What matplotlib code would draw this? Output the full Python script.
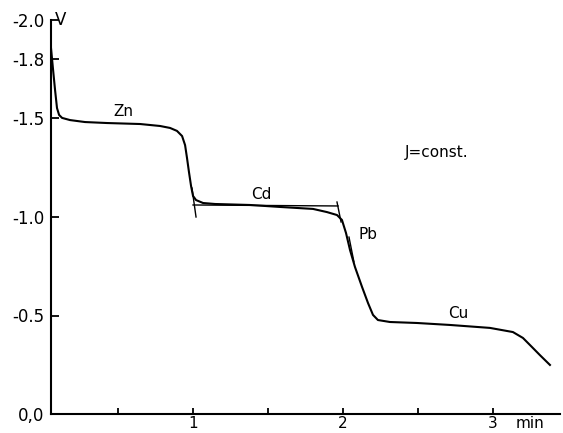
import matplotlib.pyplot as plt

# chronopotentiogram, constant current: time in min, potential in V
t_min = [0.053, 0.067, 0.080, 0.093, 0.107, 0.127, 0.180, 0.280, 0.427, 0.647,
         0.780, 0.847, 0.893, 0.927, 0.947, 0.960, 0.973, 0.987, 1.000, 1.020,
         1.067, 1.147, 1.380, 1.580, 1.800, 1.893, 1.960, 1.993, 2.020, 2.047,
         2.080, 2.127, 2.167, 2.200, 2.233, 2.313, 2.493, 2.713, 2.980, 3.133,
         3.200, 3.260, 3.313, 3.380]
e_volt = [-1.858, -1.746, -1.645, -1.553, -1.518, -1.503, -1.492, -1.482, -1.477, -1.472,
          -1.462, -1.452, -1.437, -1.411, -1.365, -1.299, -1.228, -1.157, -1.107, -1.086,
          -1.071, -1.066, -1.061, -1.051, -1.041, -1.025, -1.010, -0.985, -0.919, -0.832,
          -0.746, -0.645, -0.563, -0.503, -0.477, -0.467, -0.462, -0.452, -0.437, -0.416,
          -0.386, -0.340, -0.299, -0.249]

# construction lines used to read the transition times
tangents = [
    ([1.000, 1.967], [-1.061, -1.056]),   # Cd plateau
    ([0.993, 1.020], [-1.147, -1.000]),   # Zn -> Cd step
    ([1.960, 1.987], [-1.076, -0.975]),   # Cd -> Pb step
    ([2.040, 2.073], [-0.898, -0.772]),   # Pb
]

ions = ["Zn", "Cd", "Pb", "Cu"]
ion_t = [0.533, 1.453, 2.167, 2.767]
ion_e = [-1.533, -1.112, -0.911, -0.508]

x_ticks = [0.5, 1.0, 1.5, 2.0, 2.5, 3.0]
x_labels = ["", "1", "", "2", "", "3"]
y_ticks = [-2.0, -1.8, -1.5, -1.0, -0.5, 0.0]
y_labels = ["-2.0", "-1.8", "-1.5", "-1.0", "-0.5", "0,0"]

plt.rcParams['font.family'] = ['DejaVu Sans']

fig = plt.figure(figsize=(5.63, 4.33), dpi=100)
ax = fig.add_axes([51 / 563, 19 / 433, 509 / 563, 394 / 433])

ax.plot(t_min, e_volt, color='black', linewidth=1.5)
for tx, ty in tangents:
    ax.plot(tx, ty, color='black', linewidth=1.0)

for name, tx, ty in zip(ions, ion_t, ion_e):
    ax.text(tx, ty, name, fontsize=11, ha='center', va='center')
ax.text(2.627, -1.325, "J=const.", fontsize=11, ha='center', va='center')

ax.set_xlim(0.053, 3.447)
ax.set_ylim(0.0, -2.0)

ax.set_xticks(x_ticks)
ax.set_xticklabels(x_labels)
ax.set_yticks(y_ticks)
ax.set_yticklabels(y_labels)
ax.tick_params(axis='both', direction='in', width=1.3)
ax.tick_params(axis='y', length=6, pad=5, labelsize=12)
ax.tick_params(axis='x', length=4, pad=1.5, labelsize=11)

# unit labels next to the axes
ax.text(3.247, 0.047, "min", fontsize=11, ha='center', va='center', clip_on=False)
ax.text(0.12, -2.0, "V", fontsize=12, ha='center', va='center', clip_on=False)

for side in ['top', 'right']:
    ax.spines[side].set_visible(False)
for side in ['left', 'bottom']:
    ax.spines[side].set_linewidth(1.5)

fig.savefig("out.png", dpi=100)
